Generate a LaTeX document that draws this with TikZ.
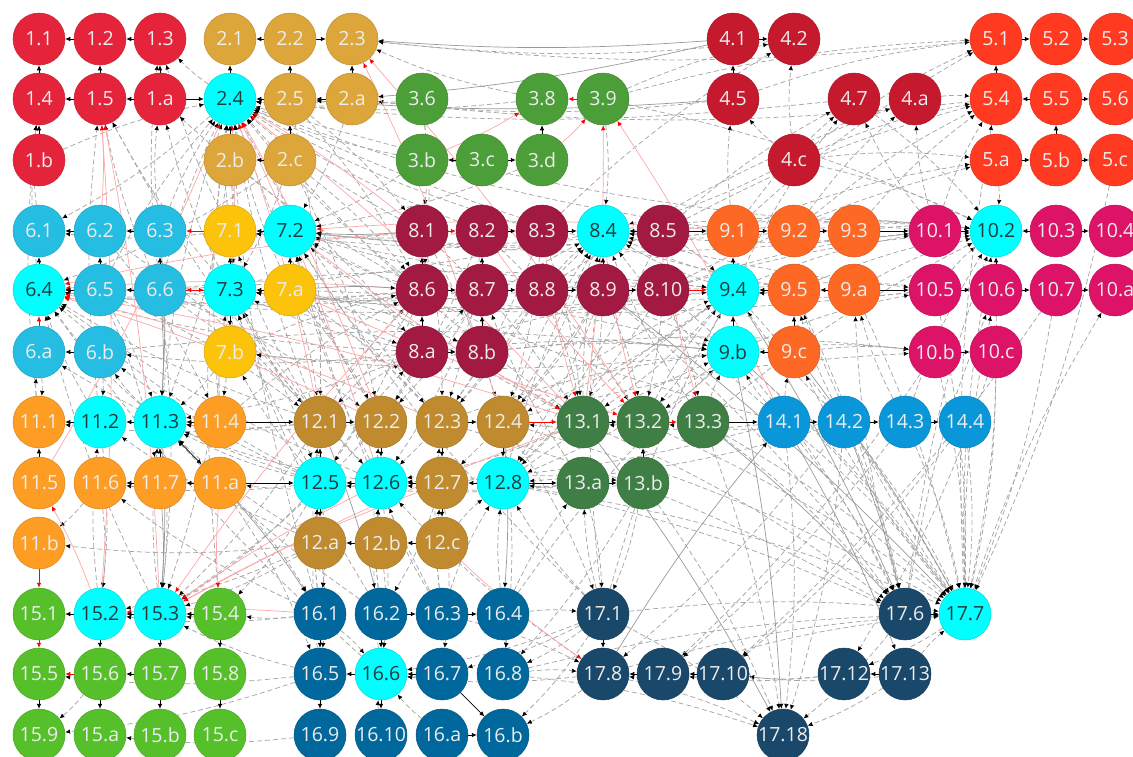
\documentclass[tikz,border=0pt]{standalone}
\usepackage{fontspec}
\newfontfamily\goalfont{Open Sans}
\usetikzlibrary{arrows.meta,backgrounds}

% goal colours
\definecolor{c1}{HTML}{E5243B}
\definecolor{c2}{HTML}{DDA63A}
\definecolor{c3}{HTML}{4C9F38}
\definecolor{c4}{HTML}{C5192D}
\definecolor{c5}{HTML}{FF3A21}
\definecolor{c6}{HTML}{26BDE2}
\definecolor{c7}{HTML}{FCC30B}
\definecolor{c8}{HTML}{A21942}
\definecolor{c9}{HTML}{FD6925}
\definecolor{c10}{HTML}{DD1367}
\definecolor{c11}{HTML}{FD9D24}
\definecolor{c12}{HTML}{BF8B2E}
\definecolor{c13}{HTML}{3F7E44}
\definecolor{c14}{HTML}{0A97D9}
\definecolor{c15}{HTML}{56C02B}
\definecolor{c16}{HTML}{00689D}
\definecolor{c17}{HTML}{19486A}
\definecolor{hubcyan}{HTML}{00FFFF}
\definecolor{hubtext}{HTML}{203C3C}
\definecolor{labelgrey}{HTML}{EDEDED}

\tikzset{
  target/.style={circle, minimum size=52pt, inner sep=0pt, fill=c#1,
    draw=c#1!85!black, line width=0.5pt, text=labelgrey,
    font=\goalfont\fontsize{19.5}{19.5}\selectfont},
  hub/.style={target=#1, fill=hubcyan, draw=hubcyan!85!black, text=hubtext},
  dep/.style={draw=gray!70, line width=0.75pt, dash pattern=on 5pt off 3pt,
    -{Latex[length=5pt,width=4.5pt,color=black]}},
  link/.style={draw=gray!80, line width=0.7pt,
    -{Latex[length=5pt,width=4.5pt,color=black]}},
  redlink/.style={draw=red!35, line width=0.7pt,
    -{Latex[length=5pt,width=4.5pt,color=red]}},
  near/.style={draw=black, line width=0.7pt, -{Latex[length=5pt,width=4.5pt]}},
  nearred/.style={draw=red, line width=0.7pt, -{Latex[length=5pt,width=4.5pt]}},
}

\begin{document}
\begin{tikzpicture}[x=1pt, y=-1pt]
\useasboundingbox (0,0) rectangle (1133,756);

% targets
\foreach \g/\k/\x/\y in {
  1/1/39/39, 1/2/100/39, 1/3/160/39, 1/4/39/99, 1/5/100/99, 1/a/160/99, 1/b/39/160,
  2/1/230/39, 2/2/290/39, 2/3/352/39, 2/5/290/99, 2/a/352/99, 2/b/230/160, 2/c/290/160,
  3/6/422/99, 3/8/542/99, 3/9/603/99, 3/b/422/160, 3/c/482/160, 3/d/542/160,
  4/1/733/39, 4/2/794/39, 4/5/733/99, 4/7/854/99, 4/a/915/99, 4/c/794/160,
  5/1/996/39, 5/2/1056/39, 5/3/1115/39, 5/4/996/99, 5/5/1056/99, 5/6/1115/99,
  5/a/996/160, 5/b/1056/160, 5/c/1115/160,
  6/1/39/231, 6/2/100/231, 6/3/160/231, 6/5/100/290, 6/6/160/290, 6/a/39/352, 6/b/100/352,
  7/1/230/231, 7/a/290/290, 7/b/230/352,
  8/1/422/231, 8/2/482/231, 8/3/542/231, 8/5/663/231,
  8/6/422/290, 8/7/482/290, 8/8/542/290, 8/9/603/290, 8/10/663/290, 8/a/422/352, 8/b/482/352,
  9/1/733/231, 9/2/794/231, 9/3/854/231, 9/5/794/290, 9/a/854/290, 9/c/794/352,
  10/1/935/231, 10/3/1056/231, 10/4/1115/231,
  10/5/935/290, 10/6/996/290, 10/7/1056/290, 10/a/1115/290, 10/b/935/352, 10/c/996/352,
  11/1/39/422, 11/4/220/422, 11/5/39/483, 11/6/100/483, 11/7/160/483, 11/a/220/483, 11/b/39/543,
  12/1/320/422, 12/2/381/422, 12/3/442/422, 12/4/503/422, 12/7/442/483,
  12/a/320/543, 12/b/381/543, 12/c/442/543,
  13/1/583/422, 13/2/643/422, 13/3/703/422, 13/a/583/483, 13/b/643/483,
  14/1/784/422, 14/2/844/422, 14/3/905/422, 14/4/965/422,
  15/1/39/614, 15/4/220/614, 15/5/39/674, 15/6/100/674, 15/7/160/674, 15/8/220/674,
  15/9/39/735, 15/a/100/735, 15/b/160/735, 15/c/220/735,
  16/1/320/614, 16/2/381/614, 16/3/442/614, 16/4/503/614, 16/5/320/674, 16/7/442/674, 16/8/503/674,
  16/9/320/735, 16/10/381/735, 16/a/442/735, 16/b/503/735,
  17/1/603/614, 17/6/905/614, 17/8/603/674, 17/9/663/674, 17/10/723/674,
  17/12/844/674, 17/13/905/674, 17/18/783/735}
  \node[target=\g] (t\g-\k) at (\x,\y) {\g.\k};

% central targets
\foreach \g/\k/\x/\y in {
  2/4/230/99, 6/4/39/290, 7/2/290/231, 7/3/230/290, 8/4/603/231, 9/4/733/290,
  9/b/733/352, 10/2/996/231, 11/2/100/422, 11/3/160/422, 12/5/320/483,
  12/6/381/483, 12/8/503/483, 15/2/100/614, 15/3/160/614, 16/6/381/674, 17/7/965/614}
  \node[hub=\g] (t\g-\k) at (\x,\y) {\g.\k};

\begin{scope}[on background layer]
% dashed links, grouped by the target they point to
\foreach \t/\srcs in {
  2-4/{2-a,3-6,3-b,6-3,6-6,7-1,8-1,8-3,8-6,9-1,11-4,12-1,12-2,16-1,6-5,1-b,10-1,4-7,3-8,12-3,8-2,13-1,7-a,11-3,15-4,9-5},
  2-3/{4-2,3-8,5-1}, 2-a/{5-4,4-5},
  1-3/{2-4,7-1,6-6}, 1-5/{6-6,11-2,7-3,12-1}, 1-4/{6-4,6-1,11-1}, 1-a/{6-3,7-3,8-6},
  6-4/{7-3,8-6,8-7,11-3,12-1,12-5,15-3,16-6,9-4,2-c,11-2,8-a,12-6,8-4},
  6-1/{2-4,7-1}, 6-a/{11-1,12-5}, 6-b/{12-5,8-a,11-3},
  7-2/{8-2,8-6,9-1,9-4,10-1,12-2,12-3,13-1,3-b,3-d,2-a,17-1,14-1,8-5,8-9,12-6,16-3},
  7-3/{8-6,8-a,12-1,12-5,11-4,9-5,10-5,16-2,8-8,12-6,8-7},
  7-1/{8-1,12-1,9-1}, 7-b/{12-5,8-b,9-b},
  8-4/{8-8,9-2,9-5,10-6,12-4,13-1,3-9,4-c,12-8,14-1,17-1,8-a,12-3,9-4,13-3,10-1},
  8-6/{12-1,11-4,7-b}, 8-7/{12-2,13-a}, 8-a/{12-1,12-5},
  9-4/{9-5,8-5,10-5,12-4,13-2,8-a,6-6,17-1,14-2,12-8,8-8,13-1},
  9-b/{8-b,8-8,7-a,12-3,13-3,16-4,6-b,12-8,14-1,8-a},
  9-5/{17-7,14-2}, 9-a/{17-6,14-3}, 9-c/{17-7,14-1},
  10-2/{9-3,9-2,9-a,8-5,5-a,4-c,17-7,14-3,13-3,8-10,4-7,3-9,17-6,9-5,10-5,9-1,8-4},
  10-5/{9-b,9-4}, 10-b/{9-b,8-b,12-4,9-c}, 10-a/{17-7}, 10-6/{17-7,17-6}, 10-1/{9-4,8-10},
  5-1/{4-c,4-5,3-9,9-1}, 5-4/{4-a,4-c,9-2,8-5,17-7,10-1,9-3}, 5-a/{4-c,9-1,8-10},
  4-2/{4-c,3-9,8-3}, 4-7/{8-5,9-1,10-1,9-4}, 4-a/{9-2,8-8,10-1}, 4-5/{4-c,9-1},
  11-3/{12-1,12-5,7-b,8-a,15-3,16-2,2-b,12-a,12-2,6-5,12-6},
  11-2/{6-b,15-2,12-a}, 11-1/{6-a,12-1}, 11-6/{12-5,16-1}, 11-a/{12-6}, 11-b/{11-6,12-a},
  12-5/{12-a,16-1,16-5,8-6,13-a,7-3},
  12-6/{12-b,16-2,16-6,8-7,13-a,14-1,17-8,8-8,13-1},
  12-8/{13-a,12-c,16-4,9-b,14-2,17-1,8-9,13-b},
  12-1/{8-6,7-a,16-1,2-5,6-5,6-2}, 12-2/{8-7,8-2,16-2,7-a,6-6,2-c}, 12-3/{8-8,8-3,16-3,7-a,8-1,8-2},
  12-4/{8-9,8-4,13-2,9-4,8-1,8-3},
  13-1/{9-4,8-9,14-1,8-1,8-3,8-8,7-a}, 13-2/{9-b,9-4,14-2,8-2,8-5,8-9}, 13-3/{8-10},
  13-a/{17-1,16-4}, 13-b/{12-7}, 12-7/{8-9,16-3}, 12-6/{6-6,16-3},
  8-6/{2-5,2-c,3-6}, 8-1/{2-5,3-6}, 8-a/{6-6,2-b}, 7-3/{2-b,2-c}, 11-4/{2-b,6-2}, 11-7/{6-5},
  8-b/{7-a}, 12-8/{8-5,8-10,16-3}, 17-1/{13-b}, 16-8/{13-b}, 17-8/{16-3}, 16-2/{12-7},
  15-2/{11-6,11-2,12-a,16-1}, 15-3/{15-4,11-3,12-a,12-5,6-6,7-3,12-1,16-5,12-2},
  15-4/{16-1,12-5}, 15-9/{16-5,15-6}, 15-a/{16-9}, 15-5/{16-5},
  16-6/{16-a,16-10,17-8,12-b,16-1,16-7,12-6,17-1},
  16-8/{17-1,16-4,12-4}, 16-b/{17-1,17-8}, 16-7/{12-7,17-1}, 16-1/{12-5,12-a,11-a}, 16-5/{11-a,12-a},
  17-1/{16-4,12-4,13-a}, 17-8/{16-8,14-2,17-10}, 17-9/{14-3,10-b,17-12},
  17-10/{17-12,14-4,10-7,17-13}, 17-12/{10-c,17-7},
  17-18/{17-6,17-13,14-1,16-8,13-b,17-1,17-8,14-2,13-3},
  17-6/{14-1,13-1,9-5,12-3,8-9,13-3,12-8,14-2,9-b},
  17-7/{17-13,14-1,14-2,14-3,14-4,9-b,10-5,10-6,12-8,13-2,13-3,17-1,17-8,17-9,9-4,8-10,5-c,16-8,10-b,10-c,9-a,10-7,12-4}}
  \foreach \s in \srcs
    \draw[dep] (t\s) to[bend left=6] (t\t);

% red links
\foreach \s/\t in {12-1/2-4,12-2/2-4,13-1/2-4,8-1/2-4,12-6/2-4,11-5/2-4,7-3/2-4,
  15-2/1-5,15-3/1-5,6-2/1-5,12-4/2-3,13-2/2-3,3-b/3-8,3-d/3-9,13-1/3-9,14-1/3-9,
  8-1/6-4,12-3/6-4,13-1/6-4,8-6/6-4,12-2/6-4,9-1/7-2,
  12-6/15-3,12-7/15-3,13-1/15-3,8-6/15-3,11-a/15-4,
  7-2/13-1,8-3/13-1,8-4/13-2,8-2/13-2,8-5/13-3,7-a/13-2,12-c/17-8,15-2/11-5,16-1/15-2}
  \draw[redlink] (t\s) to[bend right=4] (t\t);

% solid links
\foreach \s/\t in {4-1/2-3,4-1/2-a,4-5/2-5,11-3/15-3,11-7/15-3,7-a/8-6,8-1/7-2,
  13-3/17-6,14-1/17-13,9-4/17-6,9-c/17-7,17-8/14-1,6-6/11-3,6-3/11-3,12-1/16-2,
  13-1/17-18,9-b/17-18,14-2/17-6,8-9/17-7,11-a/16-1,12-4/16-4}
  \draw[link] (t\s) to[bend left=4] (t\t);

% neighbouring targets
\foreach \s/\t in {1-2/1-1,1-3/1-2,1-4/1-1,1-5/1-2,1-a/1-3,1-5/1-4,1-a/1-5,1-b/1-4,1-a/2-4,
  2-2/2-1,2-2/2-3,2-4/2-1,2-5/2-4,2-a/2-5,2-a/2-3,2-c/2-b,2-b/2-4,2-c/2-5,2-5/2-2,
  3-d/3-8,3-c/3-b,3-c/3-d,4-1/4-2,4-5/4-1,
  5-1/5-2,5-2/5-3,5-4/5-1,5-5/5-4,5-5/5-6,5-a/5-b,5-b/5-5,5-b/5-c,
  6-2/6-1,6-3/6-2,6-4/6-1,6-5/6-2,6-6/6-3,6-6/6-5,6-5/6-4,6-b/6-a,
  7-2/7-1,7-3/7-1,7-a/7-2,7-a/7-3,7-3/7-b,
  8-2/8-3,8-3/8-4,8-5/8-4,8-6/8-1,8-7/8-2,8-6/8-7,8-7/8-8,8-8/8-9,8-9/8-10,8-9/8-4,
  8-a/8-6,8-a/8-b,8-b/8-7,8-5/9-1,
  9-4/9-1,9-b/9-4,9-1/9-2,9-2/9-3,9-5/9-4,9-a/9-5,9-c/9-5,9-c/9-b,9-3/10-1,9-a/10-5,
  10-1/10-2,10-3/10-2,10-3/10-4,10-6/10-2,10-5/10-6,10-6/10-7,10-7/10-a,10-b/10-c,
  11-2/11-1,11-3/11-2,11-4/11-3,11-5/11-1,11-7/11-3,11-7/11-6,11-a/11-7,11-3/11-a,
  11-4/12-1,11-a/12-5,
  12-1/12-2,12-3/12-4,12-5/12-1,12-6/12-5,12-7/12-6,12-8/12-7,12-4/12-8,12-5/12-a,
  12-b/12-a,12-c/12-b,12-7/12-c,12-2/12-6,12-3/12-7,
  13-1/13-2,13-3/14-1,13-a/13-b,12-8/13-a,13-b/13-2,
  14-1/14-2,14-2/14-3,14-3/14-4,
  15-2/15-1,15-3/15-2,15-4/15-3,15-2/15-6,15-3/15-7,15-4/15-8,15-7/15-6,15-5/15-9,
  15-6/15-a,15-7/15-b,15-8/15-c,
  16-1/16-5,16-2/16-3,16-3/16-4,16-6/16-5,16-7/16-6,16-5/16-9,16-a/16-b,16-7/16-b,
  16-2/16-6,16-6/16-10,
  17-1/17-8,17-9/17-8,17-10/17-9,17-13/17-12,17-6/17-7}
  \draw[near] (t\s) -- (t\t);
\foreach \s/\t in {3-9/3-8,6-a/6-4,7-1/6-3,7-3/6-6,8-1/8-2,8-10/9-4,12-4/13-1,
  13-2/13-3,11-b/15-1,15-1/15-5,15-6/15-5,6-6/7-3}
  \draw[nearred] (t\s) -- (t\t);
\end{scope}
\end{tikzpicture}
\end{document}
